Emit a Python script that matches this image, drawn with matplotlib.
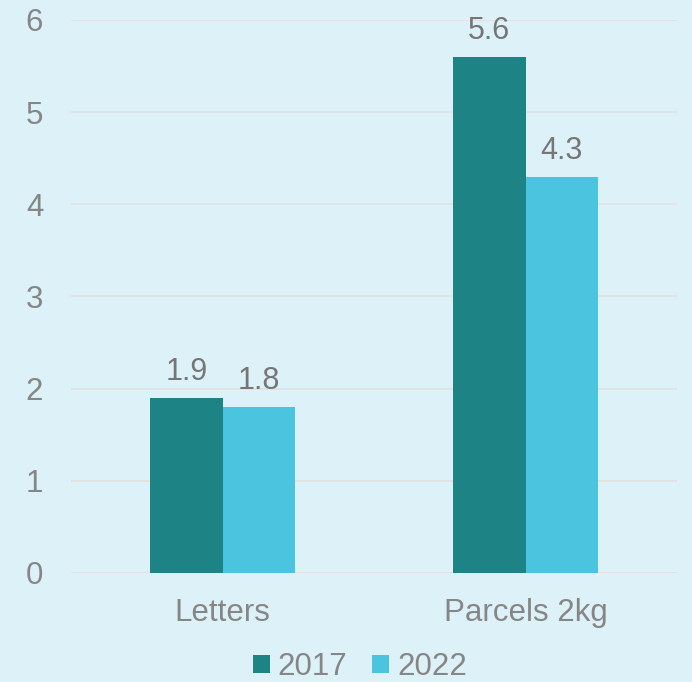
import matplotlib.pyplot as plt
import numpy as np

categories = ['Letters', 'Parcels 2kg']
years = ['2017', '2022']
values_2017 = [1.9, 5.6]
values_2022 = [1.8, 4.3]

bg = '#dcf1f8'
colors = ['#1e8385', '#4bc5df']
text_color = '#868686'
label_color = '#767676'

plt.rcParams['font.family'] = ['Liberation Sans', 'DejaVu Sans']

fig = plt.figure(figsize=(6.92, 6.82), dpi=100, facecolor=bg)
ax = fig.add_axes([71 / 692, 0.16, 606 / 692, 0.8107])
ax.set_facecolor(bg)

x = np.arange(len(categories))
w = 0.238
bars1 = ax.bar(x - w / 2, values_2017, w, color=colors[0], label=years[0], zorder=3)
bars2 = ax.bar(x + w / 2, values_2022, w, color=colors[1], label=years[1], zorder=3)

for bars in (bars1, bars2):
    for b in bars:
        ax.annotate(f'{b.get_height():.1f}', (b.get_x() + b.get_width() / 2, b.get_height()),
                    xytext=(0, 8), textcoords='offset points', ha='center', va='bottom',
                    fontsize=22, color=label_color)

ax.set_xlim(-0.5, 1.5)
ax.set_ylim(0, 6)
ax.set_yticks(range(0, 7))
ax.set_xticks(x)
ax.set_xticklabels(categories)
ax.tick_params(axis='both', length=0, labelsize=22.5, colors=text_color)
ax.tick_params(axis='y', pad=20)
ax.tick_params(axis='x', pad=18)
ax.grid(axis='y', color='#e2e2e2', linewidth=1.4, zorder=0)
for s in ax.spines.values():
    s.set_visible(False)

fig.legend(loc='center', bbox_to_anchor=(0.52, 0.022), ncol=2, frameon=False,
           fontsize=22.5, handlelength=0.55, handleheight=0.55, handletextpad=0.25,
           columnspacing=0.8, labelcolor=text_color, borderpad=0)

fig.savefig('out.png', dpi=100, facecolor=bg)
